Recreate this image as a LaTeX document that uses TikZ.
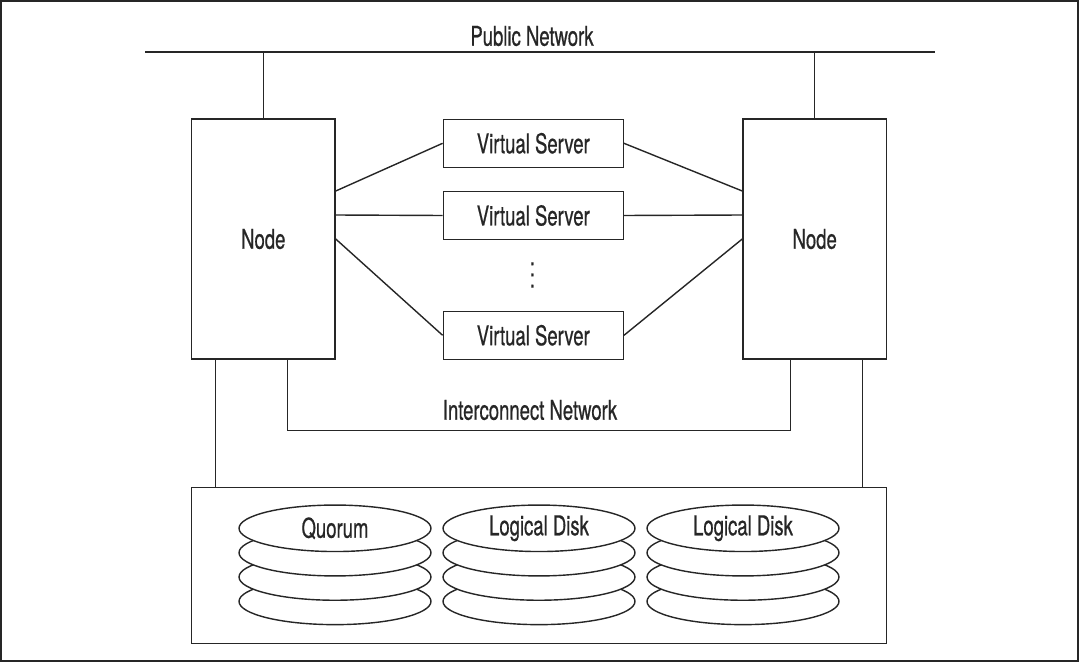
\documentclass[tikz,border=0pt]{standalone}
\usepackage{fontspec}
\setmainfont{TeX Gyre Heros}[FakeStretch=0.68,FakeBold=0.6]
\usetikzlibrary{shapes.geometric}
\definecolor{ink}{HTML}{262626}

\begin{document}
\begin{tikzpicture}[
  x=0.02cm, y=-0.02cm, line width=0.8pt, color=ink,
  font=\fontsize{15.5}{18}\selectfont,
  machine/.style={rectangle,draw,minimum width=2.87cm,minimum height=4.8cm,inner sep=0pt},
  vserver/.style={rectangle,draw,minimum width=3.6cm,minimum height=0.96cm,inner sep=0pt},
  platter/.style={ellipse,draw,fill=white,minimum width=3.84cm,minimum height=0.93cm,inner sep=0pt}
]
  \useasboundingbox (0,0) rectangle (1080,662);
  \draw (1,1) rectangle (1078,661);

  \coordinate (pubL) at (145,52);
  \coordinate (pubR) at (935,52);
  \node (pubnet) at (532,36) {Public Network};
  \draw (pubL) -- (pubR);

  \node[machine] (lnode) at (263.3,239) {Node};
  \node[machine] (rnode) at (814.7,239) {Node};
  \node[vserver] (vs1) at (533.3,143.3) {Virtual Server};
  \node[vserver] (vs2) at (533.3,215.5) {Virtual Server};
  \node[vserver] (vs3) at (533.3,335.3) {Virtual Server};
  \node[align=center,font=\fontsize{15.5}{6.4}\selectfont,inner sep=0pt] (dots) at (532.3,275) {.\\.\\.};

  \draw (lnode.north) -- (lnode.north |- pubL);
  \draw (rnode.north) -- (rnode.north |- pubR);

  \draw ([yshift=0.96cm]lnode.east) -- (vs1.west);
  \draw ([yshift=0.48cm]lnode.east) -- (vs2.west);
  \draw (lnode.east) -- (vs3.west);
  \draw (vs1.east) -- ([yshift=0.96cm]rnode.west);
  \draw (vs2.east) -- ([yshift=0.48cm]rnode.west);
  \draw (vs3.east) -- (rnode.west);

  \coordinate (icnet) at (539,430.7);
  \node (iclabel) at (530,410) {Interconnect Network};
  \draw ([xshift=0.48cm]lnode.south) |- (icnet) -| ([xshift=-0.48cm]rnode.south);

  \node[rectangle,draw,minimum width=13.9cm,minimum height=3.12cm,inner sep=0pt] (storage) at (539.2,565.3) {};
  \draw ([xshift=-0.96cm]lnode.south) -- ([xshift=-0.96cm]lnode.south |- storage.north);
  \draw ([xshift=0.96cm]rnode.south) -- ([xshift=0.96cm]rnode.south |- storage.north);

  % quorum stack
  \node[platter] (q4) at (335,601.4) {};
  \node[platter] (q3) at (335,577) {};
  \node[platter] (q2) at (335,552.7) {};
  \node[platter] (q1) at (335,528.3) {Quorum};
  % first logical disk
  \node[platter] (da4) at (539,601.4) {};
  \node[platter] (da3) at (539,577) {};
  \node[platter] (da2) at (539,552.7) {};
  \node[platter] (da1) at (539,528.3) {Logical Disk};
  % second logical disk
  \node[platter] (db4) at (743,601.4) {};
  \node[platter] (db3) at (743,577) {};
  \node[platter] (db2) at (743,552.7) {};
  \node[platter] (db1) at (743,528.3) {Logical Disk};
\end{tikzpicture}
\end{document}
